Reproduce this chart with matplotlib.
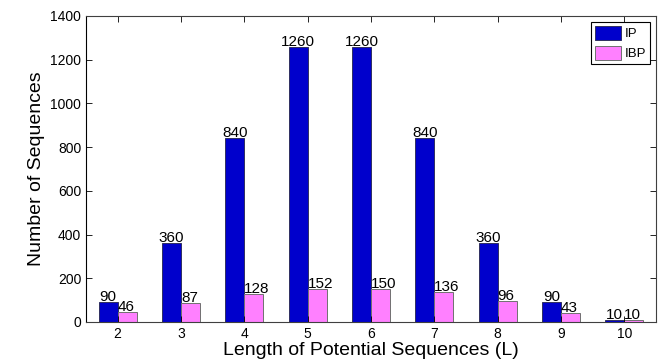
import numpy as np
import matplotlib

matplotlib.use("Agg")
import matplotlib.pyplot as plt

# --- values ---
lengths = [2, 3, 4, 5, 6, 7, 8, 9, 10]
ip = [90, 360, 840, 1260, 1260, 840, 360, 90, 10]
ibp = [46, 87, 128, 152, 150, 136, 96, 43, 10]

plt.rcParams.update(
    {
        "font.family": ["Liberation Sans", "DejaVu Sans"],
        "font.size": 10,
        "savefig.dpi": 100,
    }
)
C_IP, C_IBP = "#0000cc", "#ff80ff"
w = 0.3

fig = plt.figure(figsize=(6.64, 3.62), dpi=100)
ax = fig.add_axes([0.1295, 0.1105, 0.8585, 0.8455])

x = np.array(lengths, float)
ax.bar(x - w / 2, ip, w, color=C_IP, edgecolor="#303060", lw=0.7, label="IP")
ax.bar(x + w / 2, ibp, w, color=C_IBP, edgecolor="#707070", lw=0.7, label="IBP")

# value labels: IP centred on its bar, IBP starting at its bar's left edge
for xi, v in zip(x, ip):
    ax.text(xi - w / 2, v + 4, str(v), ha="center", va="baseline", fontsize=11)
for xi, v in zip(x, ibp):
    ax.text(xi, v + 4, str(v), ha="left", va="baseline", fontsize=11)

ax.set_xlim(1.5, 10.5)
ax.set_ylim(0, 1400)
ax.set_xticks(lengths)
ax.set_yticks(np.arange(0, 1401, 200))
ax.tick_params(direction="in", top=True, right=True, length=4, width=0.6,
               labelsize=10, colors="#000000")
for s in ax.spines.values():
    s.set_linewidth(0.8)
    s.set_color("#404040")
ax.spines["left"].set_color("black")

ax.set_xlabel("Length of Potential Sequences (L)", fontsize=14, labelpad=1)
ax.set_ylabel("Number of Sequences", fontsize=14, labelpad=4)

leg = ax.legend(loc="upper right", fontsize=9.5, fancybox=False, framealpha=1,
                edgecolor="black", handlelength=1.95, handleheight=1.3,
                handletextpad=0.3, labelspacing=0.4, borderpad=0.3,
                borderaxespad=0.45)
leg.get_frame().set_linewidth(0.8)

fig.savefig("out.png")
